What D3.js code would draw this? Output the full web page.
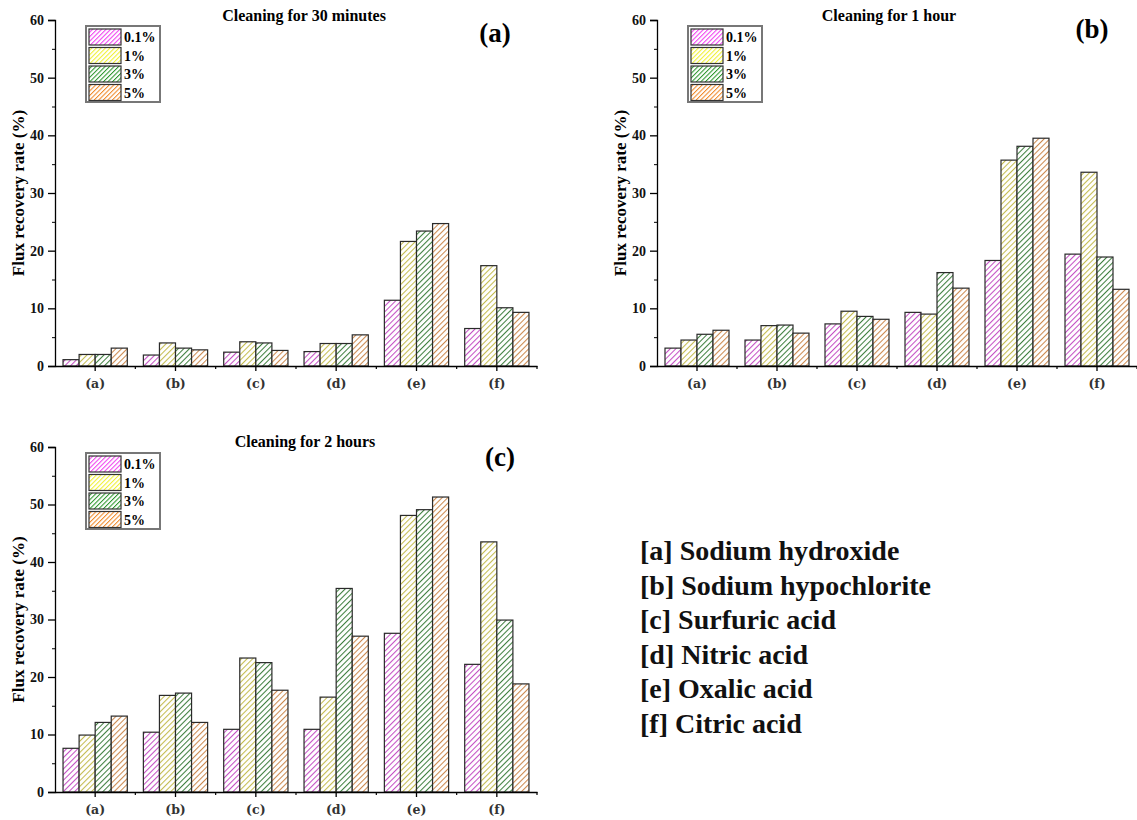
<!DOCTYPE html>
<html>
<head>
<meta charset="utf-8">
<script src="https://cdn.jsdelivr.net/npm/d3@7"></script>
<style>
  body { margin: 0; background: #fff; }
  text { font-family: "Liberation Serif", "Times New Roman", serif; font-weight: bold; }
</style>
</head>
<body>
<div id="chart"></div>
<script>
// categories on the x axis
var categories = ["(a)", "(b)", "(c)", "(d)", "(e)", "(f)"];
// concentrations (series)
var series = ["0.1%", "1%", "3%", "5%"];
var seriesColor = ["#c450c4", "#c4bc50", "#3f7f3f", "#cc8a50"];
var legendColor = ["#f040f0", "#f0f030", "#2c962c", "#f08a2a"];
var yTicks = [0, 10, 20, 30, 40, 50, 60];
var yMinor = [5, 15, 25, 35, 45, 55];

// flux recovery rate (%), one row per concentration
var wash30 = [
    [1.1, 1.9, 2.4, 2.5, 11.4, 6.5],
    [2.0, 4.0, 4.2, 3.9, 21.6, 17.4],
    [2.0, 3.1, 4.0, 3.9, 23.4, 10.1],
    [3.1, 2.8, 2.7, 5.4, 24.7, 9.3]
];
var wash60 = [
    [3.1, 4.5, 7.3, 9.3, 18.3, 19.4],
    [4.5, 7.0, 9.5, 9.0, 35.7, 33.6],
    [5.5, 7.1, 8.6, 16.2, 38.1, 18.9],
    [6.2, 5.7, 8.1, 13.5, 39.5, 13.3]
];
var wash120 = [
    [7.6, 10.4, 10.9, 10.9, 27.6, 22.2],
    [9.9, 16.8, 23.3, 16.5, 48.1, 43.5],
    [12.1, 17.2, 22.5, 35.4, 49.1, 29.9],
    [13.2, 12.1, 17.7, 27.1, 51.3, 18.8]
];

var agents = [
    "[a] Sodium hydroxide",
    "[b] Sodium hypochlorite",
    "[c] Surfuric acid",
    "[d] Nitric acid",
    "[e] Oxalic acid",
    "[f] Citric acid"
];

var svg = d3.select("#chart")
    .append("svg")
    .attr("width", 1137)
    .attr("height", 820);

// hatch patterns
var defs = svg.append("defs");
function hatch(id, color, gap) {
    var p = defs.append("pattern")
        .attr("id", id)
        .attr("patternUnits", "userSpaceOnUse")
        .attr("width", gap)
        .attr("height", gap)
        .attr("patternTransform", "rotate(45)");
    p.append("rect").attr("width", gap).attr("height", gap).attr("fill", "#fff");
    p.append("line")
        .attr("x1", 0.5).attr("y1", 0)
        .attr("x2", 0.5).attr("y2", gap)
        .attr("stroke", color)
        .attr("stroke-width", 1.1);
}
series.forEach(function (s, i) {
    hatch("bar" + i, seriesColor[i], 4);
    hatch("leg" + i, legendColor[i], 3.2);
});

var panels = [
    {data: wash30, left: 55, top: 20, bottom: 366, right: 537, title: "Cleaning for 30 minutes",
     tx: 304, ty: 21, tag: "(a)", gx: 495, gy: 42, lx: 86, ly: 26},
    {data: wash60, left: 657, top: 20, bottom: 366, right: 1137, title: "Cleaning for 1 hour",
     tx: 889, ty: 21, tag: "(b)", gx: 1092, gy: 38, lx: 688, ly: 26},
    {data: wash120, left: 55, top: 447, bottom: 792, right: 537, title: "Cleaning for 2 hours",
     tx: 305, ty: 447, tag: "(c)", gx: 500, gy: 466, lx: 86, ly: 453}
];

panels.forEach(function (p) {
    var g = svg.append("g");

    var x = d3.scaleBand()
        .domain(categories)
        .range([p.left, p.right]);
    var xs = d3.scaleBand()
        .domain(series)
        .range([0, x.bandwidth()])
        .paddingInner(0)
        .paddingOuter(0.5);
    var y = d3.scaleLinear()
        .domain([0, 60])
        .range([p.bottom, p.top]);

    // bars
    series.forEach(function (s, si) {
        g.selectAll(null)
            .data(p.data[si])
            .enter()
            .append("rect")
            .attr("x", function (d, i) { return x(categories[i]) + xs(s); })
            .attr("y", function (d) { return y(d); })
            .attr("width", xs.bandwidth())
            .attr("height", function (d) { return p.bottom - y(d); })
            .attr("fill", "url(#bar" + si + ")")
            .attr("stroke", "#2a2a2a")
            .attr("stroke-width", 1.2);
    });

    // y axis
    var yAxis = g.append("g")
        .attr("transform", "translate(" + p.left + ",0)")
        .call(d3.axisLeft(y).tickValues(yTicks).tickSize(7).tickPadding(4));
    yAxis.selectAll("text").attr("font-size", "14px").attr("fill", "#111");
    yAxis.select(".domain").attr("stroke-width", 1.3);
    yAxis.selectAll(".tick line").attr("stroke-width", 1.3);
    g.append("g")
        .attr("transform", "translate(" + p.left + ",0)")
        .call(d3.axisLeft(y).tickValues(yMinor).tickSize(3).tickFormat(""))
        .call(function (a) { a.select(".domain").remove(); });

    // x axis
    var xAxis = g.append("g")
        .attr("transform", "translate(0," + p.bottom + ")")
        .call(d3.axisBottom(x).tickSize(5).tickPadding(8).tickSizeOuter(0));
    xAxis.selectAll("text").attr("font-size", "12.5px").attr("fill", "#333")
        .style("font-family", "'DejaVu Serif', serif");
    xAxis.select(".domain").attr("stroke-width", 1.3);
    xAxis.selectAll(".tick line").attr("stroke-width", 1.3);
    // minor ticks between groups
    g.selectAll(null)
        .data(categories.slice(1).concat(["end"]))
        .enter()
        .append("line")
        .attr("x1", function (d, i) { return i < 5 ? x(d) : p.right; })
        .attr("x2", function (d, i) { return i < 5 ? x(d) : p.right; })
        .attr("y1", p.bottom)
        .attr("y2", p.bottom + 3)
        .attr("stroke", "#000")
        .attr("stroke-width", 1.2);

    // axis title
    g.append("text")
        .attr("transform", "translate(" + (p.left - 31) + "," + ((p.top + p.bottom) / 2) + ") rotate(-90)")
        .attr("text-anchor", "middle")
        .attr("font-size", "17px")
        .text("Flux recovery rate (%)");

    // chart title and panel tag
    g.append("text")
        .attr("x", p.tx).attr("y", p.ty)
        .attr("text-anchor", "middle")
        .attr("font-size", "16px")
        .text(p.title);
    g.append("text")
        .attr("x", p.gx).attr("y", p.gy)
        .attr("text-anchor", "middle")
        .attr("font-size", "27px")
        .text(p.tag);

    // legend
    var lg = g.append("g").attr("transform", "translate(" + p.lx + "," + p.ly + ")");
    lg.append("rect")
        .attr("width", 74).attr("height", 76)
        .attr("fill", "#fff")
        .attr("stroke", "#777")
        .attr("stroke-width", 2);
    series.forEach(function (s, i) {
        lg.append("rect")
            .attr("x", 3).attr("y", 3 + i * 18.5)
            .attr("width", 32).attr("height", 16)
            .attr("fill", "url(#leg" + i + ")")
            .attr("stroke", "#333")
            .attr("stroke-width", 1.2);
        lg.append("text")
            .attr("x", 38).attr("y", 16 + i * 18.5)
            .attr("font-size", "14px")
            .text(s);
    });
});

// reagent list
svg.append("g")
    .selectAll("text")
    .data(agents)
    .enter()
    .append("text")
    .attr("x", 640)
    .attr("y", function (d, i) { return 560 + i * 34.6; })
    .attr("font-size", "28px")
    .attr("fill", "#111")
    .text(function (d) { return d; });
</script>
</body>
</html>
